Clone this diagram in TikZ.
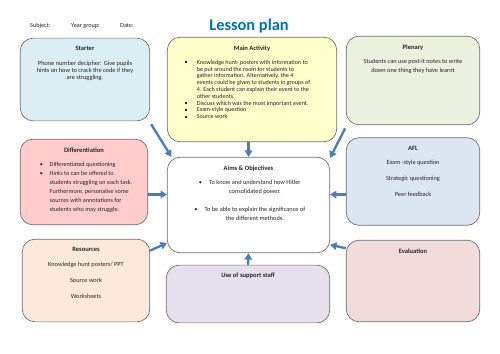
\documentclass[tikz,border=0pt]{standalone}
\usepackage{fontspec}
\setmainfont{Carlito}
\usetikzlibrary{positioning, arrows.meta}
\definecolor{TitleBlue}{RGB}{0, 112, 192}
\definecolor{ArrowBlue}{RGB}{74, 126, 187}
\definecolor{EdgeGray}{RGB}{110, 110, 110}
\definecolor{DarkText}{RGB}{38, 38, 38}
\definecolor{StarterFill}{RGB}{218, 238, 243}
\definecolor{MainFill}{RGB}{255, 255, 204}
\definecolor{PlenaryFill}{RGB}{235, 241, 222}
\definecolor{DiffFill}{RGB}{255, 204, 204}
\definecolor{AflFill}{RGB}{220, 230, 242}
\definecolor{ResFill}{RGB}{253, 233, 217}
\definecolor{StaffFill}{RGB}{229, 224, 236}
\definecolor{EvalFill}{RGB}{242, 220, 219}
\newcommand{\sqitem}{\makebox[10.2pt][l]{\rule[0.9pt]{1.5pt}{1.5pt}}}
\newcommand{\rditem}{\makebox[8.5pt][l]{\textbullet}}
\newcommand{\hangitem}{\llap{\textbullet\hspace{6pt}}}

\begin{document}
\begin{tikzpicture}[x=0.03cm, y=-0.03cm,
    panel/.style={draw=EdgeGray, line width=0.6pt, rounded corners=11pt, inner sep=0pt},
    head/.style={font=\fontsize{5.6}{6.5}\selectfont\bfseries, text=DarkText, inner sep=0pt, outer sep=0pt},
    body/.style={text=DarkText, inner sep=0pt, outer sep=0pt, align=center},
    feed/.style={-{Triangle[length=5.5pt, width=6.5pt]}, line width=2pt, ArrowBlue}]
    \useasboundingbox (0,0) rectangle (500,353);

    % Header
    \node[anchor=base west, inner sep=0pt, font=\fontsize{5.3}{6}\selectfont, text=DarkText] (subject) at (30,27.5) {Subject:};
    \node[anchor=base west, inner sep=0pt, font=\fontsize{5.3}{6}\selectfont, text=DarkText] (year) at (71,27.5) {Year group:};
    \node[anchor=base west, inner sep=0pt, font=\fontsize{5.3}{6}\selectfont, text=DarkText] (date) at (120,27.5) {Date:};
    \node[anchor=base, inner sep=0pt, font=\fontsize{14}{16}\selectfont\bfseries, text=TitleBlue] (title) at (249,30) {Lesson plan};

    % Panels
    \node[panel, fill=StarterFill, minimum width=110.5pt, minimum height=70.6pt] (starter) at (85,79.5) {};
    \node[panel, fill=MainFill, minimum width=144.6pt, minimum height=89.3pt] (main) at (252,89.5) {};
    \node[panel, fill=PlenaryFill, minimum width=114pt, minimum height=75.7pt] (plenary) at (413,80.5) {};
    \node[panel, fill=DiffFill, minimum width=108.9pt, minimum height=73.1pt] (diff) at (84,182) {};
    \node[panel, fill=white, minimum width=138.6pt, minimum height=81.6pt] (aims) at (248.5,205) {};
    \node[panel, fill=AflFill, minimum width=114pt, minimum height=74.8pt] (afl) at (413,181.5) {};
    \node[panel, fill=ResFill, minimum width=108.9pt, minimum height=70.6pt] (res) at (86,280.5) {};
    \node[panel, fill=StaffFill, minimum width=139.5pt, minimum height=49.3pt] (staff) at (248,294) {};
    \node[panel, fill=EvalFill, minimum width=114pt, minimum height=69.7pt] (eval) at (413,281) {};

    % Starter
    \node[head, below=7.5pt of starter.north] (starterhead) {Starter};
    \node[body, below=19.8pt of starter.north, font=\fontsize{5.4}{6.2}\selectfont] (starterbody)
        {Phone number decipher: Give pupils\\hints on how to crack the code if they\\are struggling.};

    % Main activity
    \node[head, below=7.5pt of main.north] (mainhead) {Main Activity};
    \node[body, align=left, below right=19.8pt and 15.3pt of main.north west, font=\fontsize{5.2}{5.8}\selectfont] (mainbody)
        {\sqitem Knowledge hunt- posters with information to\\
         \hspace*{10.2pt}be put around the room for students to\\
         \hspace*{10.2pt}gather information. Alternatively, the 4\\
         \hspace*{10.2pt}events could be given to students in groups of\\
         \hspace*{10.2pt}4. Each student can explain their event to the\\
         \hspace*{10.2pt}other students.\\
         \sqitem Discuss which was the most important event.\\
         \sqitem Exam-style question\\
         \sqitem Source work};

    % Plenary
    \node[head, below=7.5pt of plenary.north] (plenaryhead) {Plenary};
    \node[body, below=19.8pt of plenary.north, font=\fontsize{5.4}{7.9}\selectfont] (plenarybody)
        {Students can use post-it notes to write\\down one thing they have learnt};

    % Differentiation
    \node[head, below=7.5pt of diff.north] (diffhead) {Differentiation};
    \node[body, align=left, below right=19.8pt and 17pt of diff.north west, font=\fontsize{5.3}{7.65}\selectfont] (diffbody)
        {\rditem Differentiated questioning\\
         \rditem Hints to can be offered to\\
         \hspace*{8.5pt}students struggling on each task.\\
         \hspace*{8.5pt}Furthermore, personalise some\\
         \hspace*{8.5pt}sources with annotations for\\
         \hspace*{8.5pt}students who may struggle.};

    % Aims and objectives
    \node[head, below=7.5pt of aims.north] (aimshead) {Aims \& Objectives};
    \node[body, below=20.2pt of aims.north, xshift=5.5pt, font=\fontsize{5.4}{7.65}\selectfont] (aimsbody)
        {\hangitem To know and understand how Hitler\\consolidated power.\\[7.65pt]
         \hangitem To be able to explain the significance of\\the different methods.};

    % AFL
    \node[head, below=7.5pt of afl.north] (aflhead) {AFL};
    \node[body, below=19.8pt of afl.north, font=\fontsize{5.4}{13.6}\selectfont] (aflbody)
        {Exam -style question\\Strategic questioning\\Peer feedback};

    % Resources
    \node[head, below=7.5pt of res.north] (reshead) {Resources};
    \node[body, below=19.8pt of res.north, font=\fontsize{5.4}{13.6}\selectfont] (resbody)
        {Knowledge hunt posters/ PPT\\Source work\\Worksheets};

    % Support staff and evaluation
    \node[head, below=7pt of staff.north] (staffhead) {Use of support staff};
    \node[head, below=7.5pt of eval.north] (evalhead) {Evaluation};

    % Arrows into the aims
    \draw[feed, shorten <=3pt] (starter.-33) -- (aims.148);
    \draw[feed] (aims.north |- main.south) -- (aims.north);
    \draw[feed, shorten <=3pt] (plenary.214) -- (aims.30);
    \draw[feed] (diff.-11) -- (diff.-11 -| aims.west);
    \draw[feed] (afl.191) -- (afl.191 -| aims.east);
    \draw[feed] (res.25) -- (aims.205);
    \draw[feed] (eval.154) -- (aims.-26);
    \draw[feed] (staff.north) -- (aims.south);
\end{tikzpicture}
\end{document}
